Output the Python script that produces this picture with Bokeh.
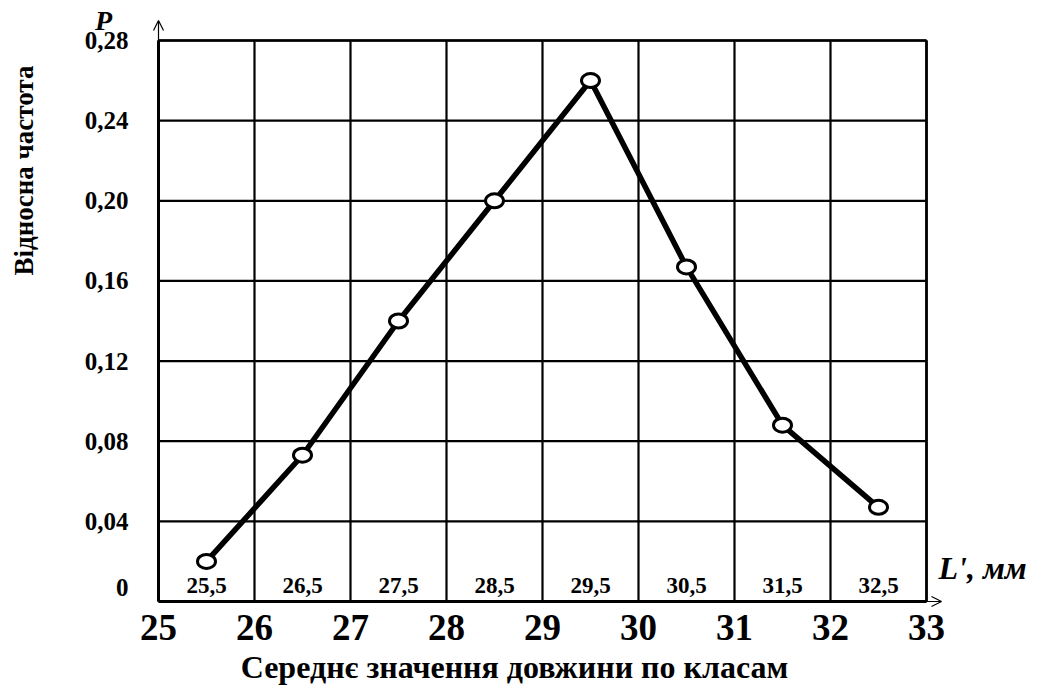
import math
from bokeh.plotting import figure
from bokeh.models import Arrow, OpenHead, Range1d, ColumnDataSource
from bokeh.core.properties import value
from bokeh.embed import file_html
from bokeh.resources import INLINE

# ---- data ----
class_mid = [25.5, 26.5, 27.5, 28.5, 29.5, 30.5, 31.5, 32.5]
rel_freq = [0.02, 0.073, 0.14, 0.20, 0.26, 0.167, 0.088, 0.047]
class_labels = ["25,5", "26,5", "27,5", "28,5", "29,5", "30,5", "31,5", "32,5"]
x_ticks = [25, 26, 27, 28, 29, 30, 31, 32, 33]
x_tick_labels = ["25", "26", "27", "28", "29", "30", "31", "32", "33"]
y_ticks = [0, 0.04, 0.08, 0.12, 0.16, 0.20, 0.24, 0.28]
y_tick_labels = ["0", "0,04", "0,08", "0,12", "0,16", "0,20", "0,24", "0,28"]
x_title = "Середнє значення довжини по класам"
y_title = "Відносна частота"
y_symbol = "P"
x_symbol = "L',  мм"

FONT = "Liberation Serif"
W, H = 1043, 686
LEFT, TOP, BOTTOM = 158, 40, 601          # pixel position of plot box
X0, X1 = x_ticks[0], x_ticks[-1]
Y0, Y1 = y_ticks[0], y_ticks[-1]
PX_X = (926 - LEFT) / (X1 - X0)           # pixels per x unit
PX_Y = (BOTTOM - TOP) / (Y1 - Y0)         # pixels per y unit
dx = lambda px: px / PX_X
dy = lambda px: px / PX_Y

p = figure(width=W, height=H,
           x_range=Range1d(X0 - dx(LEFT), X0 + dx(W - LEFT)),
           y_range=Range1d(Y0 - dy(H - BOTTOM), Y0 + dy(BOTTOM)),
           output_backend="svg", toolbar_location=None,
           min_border=0)
p.axis.visible = False
p.grid.visible = False
p.outline_line_color = None
p.background_fill_color = "white"
p.border_fill_color = "white"

# grid / box
p.segment(x0=x_ticks, y0=[Y0] * len(x_ticks), x1=x_ticks, y1=[Y1] * len(x_ticks),
          line_color="black", line_width=2.2)
p.segment(x0=[X0] * len(y_ticks), y0=y_ticks, x1=[X1] * len(y_ticks), y1=y_ticks,
          line_color="black", line_width=2.2)
p.segment(x0=[X0, X0], y0=[Y0, Y0], x1=[X1, X0], y1=[Y0, Y1],
          line_color="black", line_width=3)
p.segment(x0=[X0, X1], y0=[Y1, Y0], x1=[X1, X1], y1=[Y1, Y1],
          line_color="black", line_width=2.6)

# axis arrows
p.add_layout(Arrow(end=OpenHead(size=10, line_width=1.2, line_color="black"),
                   x_start=X0, y_start=Y1, x_end=X0, y_end=Y1 + dy(20),
                   line_color="black", line_width=1.2))
p.add_layout(Arrow(end=OpenHead(size=10, line_width=1.2, line_color="black"),
                   x_start=X1, y_start=Y0, x_end=X1 + dx(15), y_end=Y0,
                   line_color="black", line_width=1.2))

# data line + markers
src = ColumnDataSource(dict(x=class_mid, y=rel_freq, lab=class_labels,
                            ly=[Y0 + dy(16)] * len(class_mid)))
p.line("x", "y", source=src, line_color="black", line_width=5.5)
p.ellipse("x", "y", source=src, width=18, height=14,
          width_units="screen", height_units="screen",
          fill_color="white", line_color="black", line_width=3)

# class mid labels inside plot
p.text("x", "ly", text="lab", source=src,
       text_font=value(FONT), text_font_style="bold", text_font_size="23px",
       text_color="black", text_align="center", text_baseline="middle")

# x tick labels
p.text(x_ticks, [Y0 - dy(13)] * len(x_ticks), text=x_tick_labels,
       text_font=value(FONT), text_font_style="bold", text_font_size="37px",
       text_color="black", text_align="center", text_baseline="top")

# y tick labels (the "0" sits a little above the base line, as in the original)
y_lab_pos = [t if t != Y0 else Y0 + dy(14) for t in y_ticks]
p.text([X0 - dx(30)] * len(y_ticks), y_lab_pos, text=y_tick_labels,
       text_font=value(FONT), text_font_style="bold", text_font_size="25px",
       text_color="black", text_align="right", text_baseline="middle")

# titles
p.text([X0 + dx(356)], [Y0 - dy(65)], text=[x_title],
       text_font=value(FONT), text_font_style="bold", text_font_size="32px",
       text_color="black", text_align="center", text_baseline="middle")
p.text([X0 - dx(135)], [Y0 + dy(431)], text=[y_title], angle=math.pi / 2,
       text_font=value(FONT), text_font_style="bold", text_font_size="27px",
       text_color="black", text_align="center", text_baseline="middle")
p.text([X0 - dx(55)], [Y1 + dy(20)], text=[y_symbol],
       text_font=value(FONT), text_font_style="bold italic", text_font_size="28px",
       text_color="black", text_align="center", text_baseline="middle")
p.text([X1 + dx(12)], [Y0 + dy(34)], text=[x_symbol],
       text_font=value(FONT), text_font_style="bold italic", text_font_size="32px",
       text_color="black", text_align="left", text_baseline="middle")

open("out.html", "w").write(file_html(p, INLINE))
